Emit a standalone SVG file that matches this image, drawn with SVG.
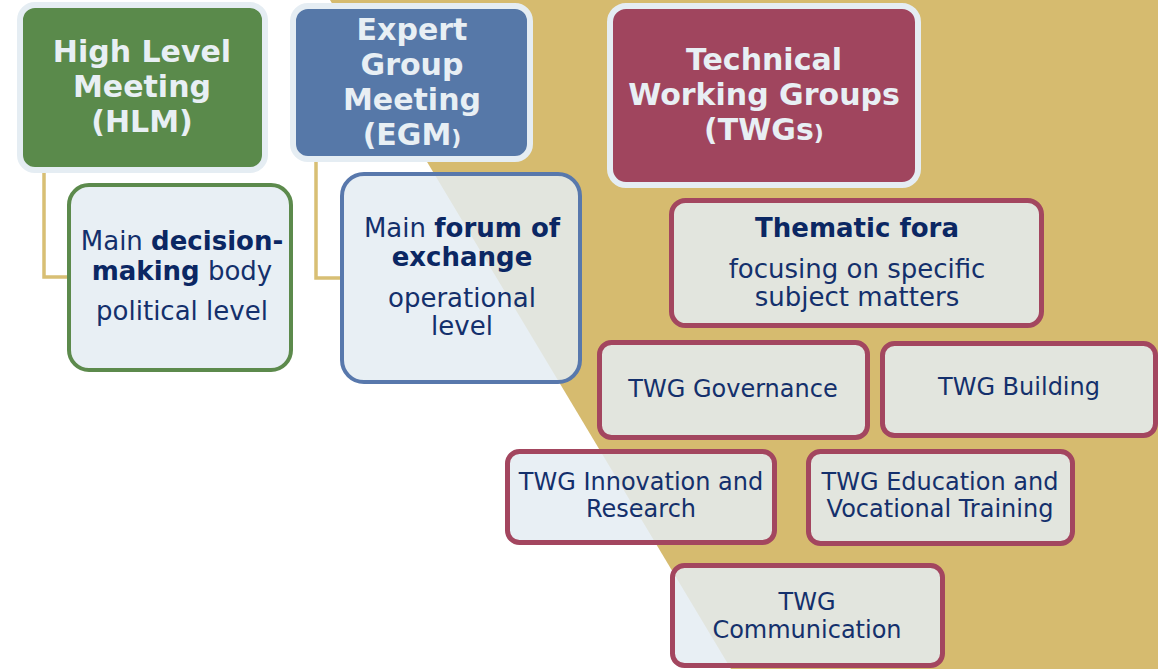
<svg xmlns="http://www.w3.org/2000/svg" width="1158" height="669" viewBox="0 0 1158 669">
<style>
.hdr{stroke:#E5EDF3;stroke-width:6}
.hdrtxt{font-family:"DejaVu Sans",sans-serif;font-weight:bold;font-size:30px;fill:#E8EFF4;text-anchor:middle}
.body{fill:#E4ECF2;fill-opacity:0.85}
.txt{font-family:"DejaVu Sans",sans-serif;font-size:26px;fill:#14306C;text-anchor:middle}
.b{font-weight:bold;fill:#0B2763}
.sub{font-family:"DejaVu Sans",sans-serif;font-size:24px;fill:#14306C;text-anchor:middle}
.twg{stroke:#A3465F;stroke-width:5}
.conn{fill:none;stroke:#D8BF74;stroke-width:3.5}
</style>
<rect x="0" y="0" width="1158" height="669" fill="#FFFFFF"/>
<polygon points="330,0 1158,0 1158,669 731,669" fill="#D6BB6F"/>
<g id="connectors">
<polyline class="conn" points="44,170 44,277 69,277"/>
<polyline class="conn" points="316,160 316,278 342,278"/>
</g>
<g id="hlm">
<rect class="hdr" x="20" y="5" width="245" height="165" rx="15" fill="#5A8A4B"/>
<text class="hdrtxt" x="142" y="62">High Level</text>
<text class="hdrtxt" x="142" y="97">Meeting</text>
<text class="hdrtxt" x="142" y="132">(HLM)</text>
</g>
<g id="egm">
<rect class="hdr" x="293" y="6" width="237" height="153" rx="15" fill="#5678A8"/>
<text class="hdrtxt" x="412" y="40">Expert</text>
<text class="hdrtxt" x="412" y="75">Group</text>
<text class="hdrtxt" x="412" y="110">Meeting</text>
<text class="hdrtxt" x="412" y="145">(EGM<tspan font-size="22px">)</tspan></text>
</g>
<g id="twgs">
<rect class="hdr" x="610" y="6" width="308" height="179" rx="16" fill="#A0455E"/>
<text class="hdrtxt" x="764" y="70">Technical</text>
<text class="hdrtxt" x="764" y="105">Working Groups</text>
<text class="hdrtxt" x="764" y="140">(TWGs<tspan font-size="22px">)</tspan></text>
</g>
<g id="hlm-body">
<rect class="body" x="69" y="185" width="222" height="185" rx="20" stroke="#5C8A4C" stroke-width="4"/>
<text class="txt" x="182" y="250">Main <tspan class="b">decision-</tspan></text>
<text class="txt" x="182" y="280"><tspan class="b">making</tspan> body</text>
<text class="txt" x="182" y="320">political level</text>
</g>
<g id="egm-body">
<rect class="body" x="342" y="174" width="238" height="208" rx="22" stroke="#5878AC" stroke-width="4"/>
<text class="txt" x="462" y="237">Main <tspan class="b">forum of</tspan></text>
<text class="txt" x="462" y="266"><tspan class="b">exchange</tspan></text>
<text class="txt" x="462" y="307">operational</text>
<text class="txt" x="462" y="335">level</text>
</g>
<g id="thematic">
<rect class="body twg" x="671.5" y="200.5" width="370" height="125" rx="14"/>
<text class="txt b" x="857" y="237" font-size="25px">Thematic fora</text>
<text class="txt" x="857" y="278">focusing on specific</text>
<text class="txt" x="857" y="306">subject matters</text>
</g>
<g id="twg-governance">
<rect class="body twg" x="599.5" y="342.5" width="268" height="95" rx="12"/>
<text class="sub" x="733" y="397">TWG Governance</text>
</g>
<g id="twg-building">
<rect class="body twg" x="882.5" y="343.5" width="273" height="92" rx="12"/>
<text class="sub" x="1019" y="395">TWG Building</text>
</g>
<g id="twg-innovation">
<rect class="body twg" x="507.5" y="451.5" width="267" height="91" rx="12"/>
<text class="sub" x="641" y="490">TWG Innovation and</text>
<text class="sub" x="641" y="517">Research</text>
</g>
<g id="twg-education">
<rect class="body twg" x="808.5" y="451.5" width="264" height="92" rx="12"/>
<text class="sub" x="940" y="490">TWG Education and</text>
<text class="sub" x="940" y="517">Vocational Training</text>
</g>
<g id="twg-communication">
<rect class="body twg" x="672.5" y="565.5" width="270" height="100" rx="12"/>
<text class="sub" x="807" y="610">TWG</text>
<text class="sub" x="807" y="638">Communication</text>
</g>
</svg>
